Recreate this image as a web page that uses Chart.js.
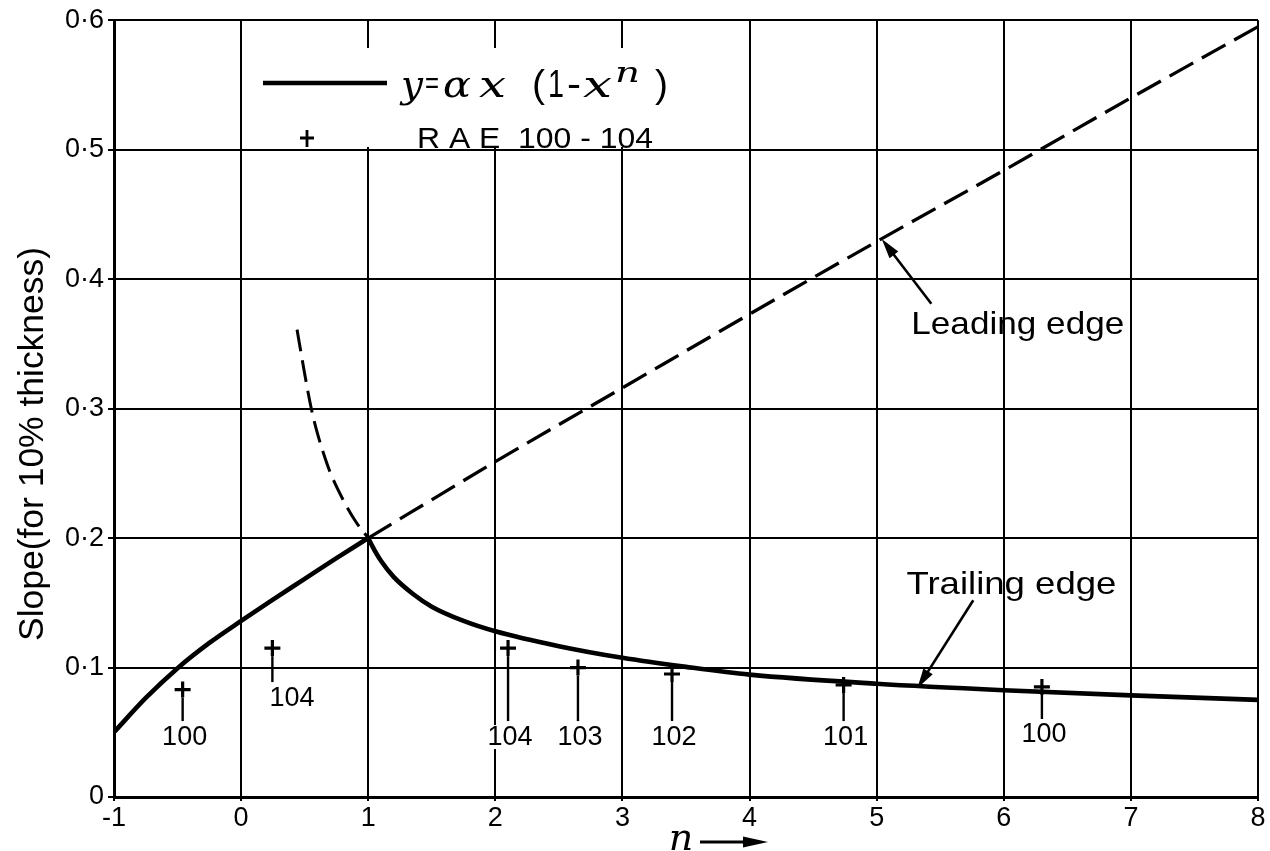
<!DOCTYPE html>
<html>
<head>
<meta charset="utf-8">
<script src="https://cdn.jsdelivr.net/npm/chart.js@4.4.0/dist/chart.umd.min.js"></script>
<style>
html,body{margin:0;padding:0;background:#fff;}
canvas{display:block;}
</style>
</head>
<body>
<canvas id="c" width="1270" height="851"></canvas>
<script>
// ---------- data ----------
const xTickLabels = ['-1','0','1','2','3','4','5','6','7','8'];
const yTickLabels = ['0','0·1','0·2','0·3','0·4','0·5','0·6'];

// leading edge, solid part (n = -1 .. 1)
const leadSolidN = [-1, -0.75, -0.5, -0.25, 0, 0.25, 0.5, 0.75, 1];
const leadSolidY = [0.050, 0.0765, 0.0995, 0.119, 0.136, 0.1525, 0.1685, 0.1845, 0.200];
// leading edge, dashed continuation (n = 1 .. 8)
const leadDashN = [1, 2, 3, 4, 5, 6, 7, 8];
const leadDashY = [0.200, 0.259, 0.316, 0.373, 0.429, 0.484, 0.540, 0.595];
// trailing edge, dashed part (n < 1)
const trailDashN = [0.44, 0.5, 0.55, 0.6, 0.65, 0.7, 0.8, 0.9, 1];
const trailDashY = [0.361, 0.327, 0.301, 0.281, 0.265, 0.251, 0.230, 0.213, 0.200];
// trailing edge, solid part (n = 1 .. 8)
const trailSolidN = [1, 1.05, 1.1, 1.2, 1.35, 1.5, 1.75, 2, 2.5, 3, 3.5, 4, 5, 6, 7, 8];
const trailSolidY = [0.200, 0.1905, 0.1825, 0.170, 0.157, 0.147, 0.136, 0.128, 0.1165, 0.1075, 0.1005, 0.0945, 0.0875, 0.0825, 0.0785, 0.075];

// RAE 100-104 points
const raeN = [-0.46, 0.246, 2.10, 2.65, 3.39, 4.74, 6.30];
const raeY = [0.083, 0.115, 0.115, 0.100, 0.095, 0.0865, 0.085];
const raeLabels = ['100','104','104','103','102','101','100'];
const raeLabelY = [0.0463, 0.0764, 0.0463, 0.0463, 0.0463, 0.0463, 0.0479];
const raeLabelAlign = ['center','left','center','center','center','center','center'];

// annotations (text baseline anchor, arrow tail, arrow tip)
const annotText = ['Leading edge', 'Trailing edge'];
const annotN = [6.11, 6.06];
const annotY = [0.358, 0.1565];
const arrowFromN = [5.43, 5.76];
const arrowFromY = [0.381, 0.152];
const arrowToN = [5.04, 5.32];
const arrowToY = [0.431, 0.084];

const legendRAE = 'R A E  100 - 104';
const yTitle = 'Slope(for 10% thickness)';
const xTitle = 'n';

// ---------- helpers ----------
const toPts = (ns, ys) => ns.map((n, i) => ({x: n, y: ys[i]}));
const curve = (data, dash, w) => ({
  type: 'line', data, borderColor: '#000', borderWidth: w,
  borderDash: dash, pointRadius: 0, pointHoverRadius: 0,
  cubicInterpolationMode: 'monotone', fill: false,
  borderCapStyle: dash.length ? 'butt' : 'round', borderJoinStyle: 'round'
});

function fitText(ctx, text, x, y, width, align) {
  const w = ctx.measureText(text).width;
  const s = width ? width / w : 1;
  ctx.save();
  ctx.translate(x, y);
  ctx.scale(s, 1);
  ctx.textAlign = align || 'center';
  ctx.fillText(text, 0, 0);
  ctx.restore();
}

function arrow(ctx, x1, y1, x2, y2) {
  const a = Math.atan2(y2 - y1, x2 - x1);
  const L = 20, H = 5.5;
  ctx.beginPath();
  ctx.moveTo(x1, y1);
  ctx.lineTo(x2 - Math.cos(a) * L * 0.6, y2 - Math.sin(a) * L * 0.6);
  ctx.stroke();
  ctx.beginPath();
  ctx.moveTo(x2, y2);
  ctx.lineTo(x2 - Math.cos(a) * L - Math.sin(a) * H, y2 - Math.sin(a) * L + Math.cos(a) * H);
  ctx.lineTo(x2 - Math.cos(a) * L + Math.sin(a) * H, y2 - Math.sin(a) * L - Math.cos(a) * H);
  ctx.closePath();
  ctx.fill();
}

const SANS = "'Liberation Sans', Arial, sans-serif";
const SERIF = "'DejaVu Serif', 'Liberation Serif', serif";
const LABEL_FONT = "27px " + SANS;

const decor = {
  id: 'decor',
  beforeDatasetsDraw(chart) {
    const {ctx} = chart;
    const xs = chart.scales.x, ys = chart.scales.y;
    ctx.save();
    ctx.fillStyle = '#fff';
    // legend background
    ctx.fillRect(246, 48, 454, 99);
    // label backgrounds
    ctx.font = LABEL_FONT;
    raeLabels.forEach((t, i) => {
      const px = xs.getPixelForValue(raeN[i]);
      const py = ys.getPixelForValue(raeLabelY[i]);
      const w = ctx.measureText(t).width;
      const left = raeLabelAlign[i] === 'left' ? px - 3 : px + 2 - w / 2;
      ctx.fillRect(left - 2, py - 12, w + 4, 24);
    });
    ctx.restore();
  },
  afterDatasetsDraw(chart) {
    const {ctx} = chart;
    const xs = chart.scales.x, ys = chart.scales.y;
    ctx.save();
    ctx.fillStyle = '#000';
    ctx.strokeStyle = '#000';

    // leader lines and labels
    ctx.font = LABEL_FONT;
    ctx.textBaseline = 'middle';
    ctx.lineWidth = 2.4;
    raeLabels.forEach((t, i) => {
      const px = xs.getPixelForValue(raeN[i]);
      const py = ys.getPixelForValue(raeY[i]);
      const ly = ys.getPixelForValue(raeLabelY[i]);
      ctx.beginPath();
      ctx.moveTo(px, py + 8);
      ctx.lineTo(px, ly - 16);
      ctx.stroke();
      if (raeLabelAlign[i] === 'left') {
        ctx.textAlign = 'left';
        ctx.fillText(t, px - 3, ly);
      } else {
        ctx.textAlign = 'center';
        ctx.fillText(t, px + 2, ly);
      }
    });

    // annotations with arrows
    ctx.textBaseline = 'alphabetic';
    ctx.font = "32px " + SANS;
    const annotWidths = [213, 210];
    annotText.forEach((t, i) => {
      fitText(ctx, t, xs.getPixelForValue(annotN[i]), ys.getPixelForValue(annotY[i]), annotWidths[i], 'center');
      ctx.lineWidth = 2.6;
      arrow(ctx, xs.getPixelForValue(arrowFromN[i]), ys.getPixelForValue(arrowFromY[i]),
                 xs.getPixelForValue(arrowToN[i]), ys.getPixelForValue(arrowToY[i]));
    });

    // legend
    ctx.lineWidth = 4.5;
    ctx.lineCap = 'butt';
    ctx.beginPath(); ctx.moveTo(263, 83); ctx.lineTo(387, 83); ctx.stroke();
    // formula y = αx (1-xⁿ), glyph by glyph
    const base = 97;
    const IT = "italic 38px " + SERIF;
    const UP = "39px " + SANS;
    const glyph = (txt, font, x, w, dy) => {
      ctx.font = font;
      fitText(ctx, txt, x, base + (dy || 0), w, 'left');
    };
    glyph('y', IT, 401, 22);
    glyph('=', "30px " + SANS, 425, 14, -4);
    glyph('α', IT, 443, 28);
    glyph('x', IT, 479, 27);
    glyph('(', UP, 532, 13);
    glyph('1', UP, 548, 16);
    glyph('-', UP, 567, 14);
    glyph('x', IT, 583, 29);
    glyph('n', "italic 27px " + SERIF, 615, 25, -15);
    glyph(')', UP, 655, 13);
    // RAE entry
    ctx.lineWidth = 2.8;
    ctx.beginPath();
    ctx.moveTo(300, 138); ctx.lineTo(314, 138);
    ctx.moveTo(307, 130); ctx.lineTo(307, 147);
    ctx.stroke();
    ctx.font = "29px " + SANS;
    fitText(ctx, legendRAE, 417, 148, 236, 'left');

    // y axis title
    ctx.save();
    ctx.translate(43, 444);
    ctx.rotate(-Math.PI / 2);
    ctx.font = "35px " + SANS;
    fitText(ctx, yTitle, 0, 0, 394, 'center');
    ctx.restore();

    // x axis title "n ->"
    ctx.font = "italic 38px " + SERIF;
    ctx.textAlign = 'center';
    ctx.fillText(xTitle, 681, 850);
    ctx.lineWidth = 3.2;
    ctx.beginPath(); ctx.moveTo(700, 842); ctx.lineTo(748, 842); ctx.stroke();
    ctx.beginPath(); ctx.moveTo(768, 842); ctx.lineTo(743, 836.5); ctx.lineTo(743, 847.5); ctx.closePath(); ctx.fill();

    ctx.restore();
  }
};

new Chart(document.getElementById('c'), {
  type: 'line',
  data: {
    datasets: [
      curve(toPts(leadSolidN, leadSolidY), [], 4.6),
      curve(toPts(leadDashN, leadDashY), [27, 10], 3.3),
      curve(toPts(trailDashN, trailDashY), [22, 9], 3.0),
      curve(toPts(trailSolidN, trailSolidY), [], 4.6),
      {
        type: 'scatter', data: toPts(raeN, raeY), showLine: false,
        pointStyle: 'cross', pointRadius: 8, pointHoverRadius: 8,
        borderColor: '#000', backgroundColor: '#000', borderWidth: 3.2
      }
    ]
  },
  options: {
    responsive: false,
    animation: false,
    devicePixelRatio: 1,
    layout: {padding: {top: 19, right: 12, left: 0, bottom: 0}},
    plugins: {legend: {display: false}, tooltip: {enabled: false}},
    events: [],
    scales: {
      x: {
        type: 'linear', min: -1, max: 8,
        afterFit(s) { s.height = 54; },
        ticks: {
          stepSize: 1, autoSkip: false, maxRotation: 0, color: '#000', padding: 1,
          font: {family: SANS, size: 27},
          callback: (v, i) => xTickLabels[i]
        },
        grid: {color: '#000', lineWidth: 2, tickLength: 4},
        border: {color: '#000', width: 3}
      },
      y: {
        type: 'linear', min: 0, max: 0.6,
        afterFit(s) { s.width = 114; },
        ticks: {
          stepSize: 0.1, color: '#000', padding: 4,
          font: {family: SANS, size: 27},
          callback: (v, i) => yTickLabels[i]
        },
        grid: {color: '#000', lineWidth: 2, tickLength: 6},
        border: {color: '#000', width: 3}
      }
    }
  },
  plugins: [decor]
});
</script>
</body>
</html>
